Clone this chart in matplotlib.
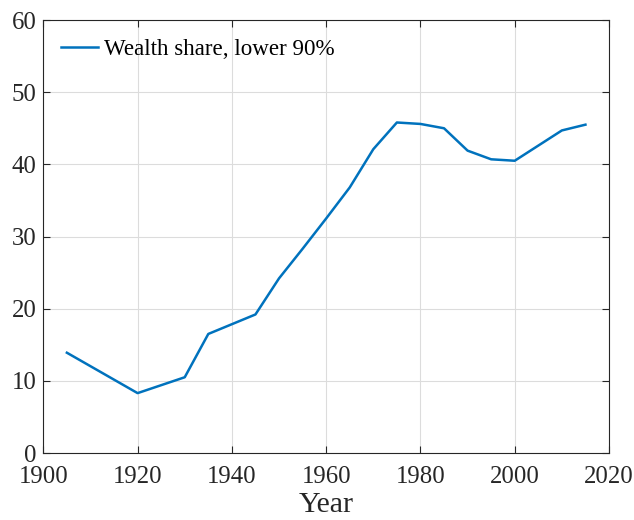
import matplotlib
matplotlib.use("Agg")
import matplotlib.pyplot as plt

years = [1905, 1920, 1930, 1935, 1945, 1950, 1955, 1960, 1965, 1970, 1975,
         1980, 1985, 1990, 1995, 2000, 2005, 2010, 2015]
share = [13.9, 8.3, 10.5, 16.5, 19.2, 24.2, 28.3, 32.5, 36.8, 42.1, 45.8,
         45.6, 45.0, 41.9, 40.7, 40.5, 42.6, 44.7, 45.5]
xticks = [1900, 1920, 1940, 1960, 1980, 2000, 2020]
yticks = [0, 10, 20, 30, 40, 50, 60]

plt.rcParams['font.family'] = ['Liberation Serif', 'DejaVu Serif']
plt.rcParams['mathtext.fontset'] = 'stix'

fig = plt.figure(figsize=(6.34, 5.2), dpi=100)
ax = fig.add_axes([0.0683, 0.1288, 0.8923, 0.8327])
ax.plot(years, share, color='#0072BD', lw=1.8, label='Wealth share, lower 90%')
ax.set_xlim(1900, 2020)
ax.set_ylim(0, 60)
ax.set_xticks(xticks)
ax.set_yticks(yticks)
ax.grid(True, color='#dcdcdc', lw=0.8)
ax.set_axisbelow(True)
axcol = '#262626'
for s in ax.spines.values():
    s.set_color(axcol)
    s.set_linewidth(0.8)
ax.tick_params(direction='in', length=5, width=0.8, color=axcol, labelcolor=axcol,
               top=True, right=True, labelsize=17.8)
ax.tick_params(axis='x', pad=9)
ax.tick_params(axis='y', pad=5)
ax.set_xlabel('Year', fontsize=21.5, color=axcol, labelpad=3)
leg = ax.legend(loc='upper left', frameon=False, fontsize=16.6, handlelength=1.6,
                handletextpad=0.25, borderaxespad=0.0, bbox_to_anchor=(0.015, 0.978))
for t in leg.get_texts():
    t.set_color('#000000')
fig.savefig('out.png', dpi=100)
